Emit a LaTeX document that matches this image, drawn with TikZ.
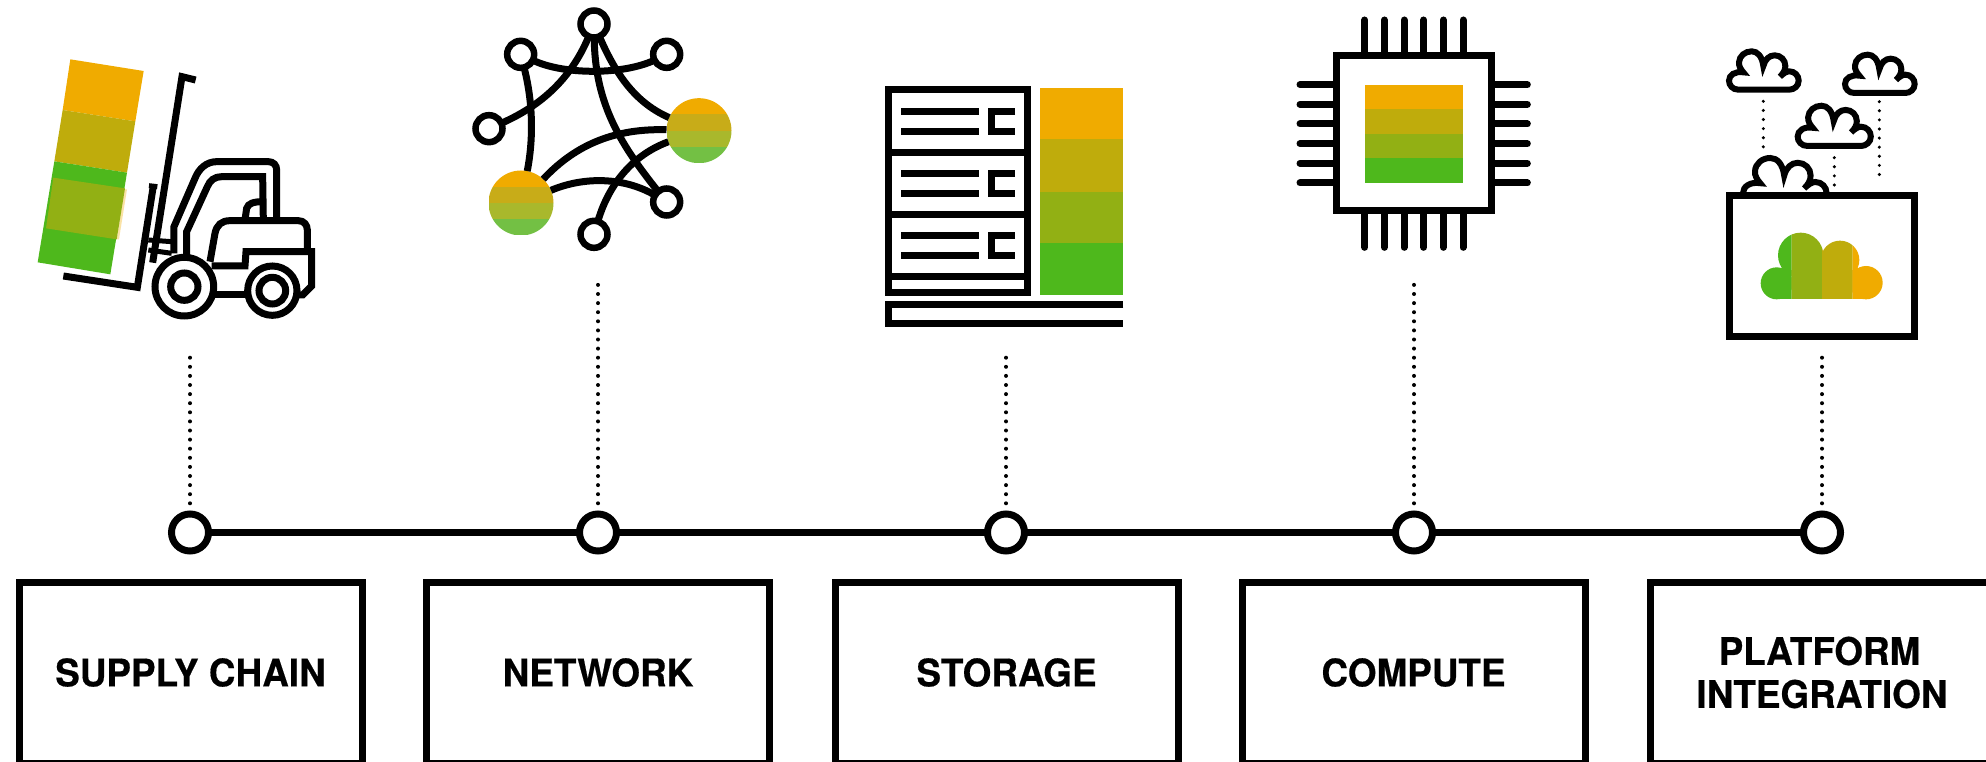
\documentclass[tikz,border=0pt]{standalone}
\usepackage{fontspec}
\newfontfamily\labfont[FakeStretch=0.97,BoldFeatures={FakeBold=0.5}]{TeX Gyre Heros}
\definecolor{cA}{HTML}{F0AB00}
\definecolor{cB}{HTML}{BFAC0C}
\definecolor{cC}{HTML}{92B014}
\definecolor{cD}{HTML}{4EB81C}
\definecolor{lA}{HTML}{F0AB00}
\definecolor{lB}{HTML}{C8AC18}
\definecolor{lC}{HTML}{A9B82C}
\definecolor{lD}{HTML}{73C044}
\tikzset{
  tick/.style={circle,draw=black,fill=white,line width=7pt,minimum size=37pt,inner sep=0pt,outer sep=0pt},
  labelbox/.style={rectangle,draw=black,line width=7pt,minimum width=343pt,minimum height=181pt,inner sep=0pt,align=center,
    font=\labfont\bfseries\fontsize{38}{43}\selectfont},
  spine/.style={line width=7pt,black},
  dots/.style={line width=4pt,line cap=round,dash pattern=on 0pt off 9.1pt,shorten >=7pt},
  ico/.style={line width=7pt,black},
  icor/.style={ico,line cap=round},
  ring/.style={circle,draw=black,fill=white,line width=6.5pt,minimum size=27pt,inner sep=0pt,outer sep=0pt},
  ball/.style={circle,minimum size=65pt,inner sep=0pt,outer sep=0pt,path picture={
    \fill[lA] (path picture bounding box.north west) rectangle ([yshift=-16.25pt]path picture bounding box.north east);
    \fill[lB] ([yshift=-16.25pt]path picture bounding box.north west) rectangle ([yshift=-32.5pt]path picture bounding box.north east);
    \fill[lC] ([yshift=-32.5pt]path picture bounding box.north west) rectangle ([yshift=-48.75pt]path picture bounding box.north east);
    \fill[lD] ([yshift=-48.75pt]path picture bounding box.north west) rectangle (path picture bounding box.south east);}},
}
\newcommand{\cloudshape}{(115,179) .. controls (98,179) and (87,166) .. (87,152)
  .. controls (87,135) and (105,123) .. (130,127)
  .. controls (122,118) and (116,108) .. (117,97)
  .. controls (118,78) and (135,64) .. (155,64)
  .. controls (172,64) and (186,78) .. (190,108)
  .. controls (195,88) and (208,76) .. (224,76)
  .. controls (242,76) and (256,90) .. (256,108)
  .. controls (256,120) and (250,130) .. (240,140)
  .. controls (250,130) and (260,124) .. (268,124)
  .. controls (284,124) and (296,137) .. (296,152)
  .. controls (296,168) and (282,179) .. (268,179) -- cycle}
\newcommand{\cloudfill}[1]{%
  \fill[#1] (230,760) circle (48) (302,676) circle (68) (420,690) circle (58) (498,758) circle (50);
  \fill[#1] (230,720) rectangle (498,808);
  \fill[#1] (300,690) rectangle (430,808);}
\begin{document}
\begin{tikzpicture}[x=1pt,y=-1pt]
\useasboundingbox (0,0) rectangle (1986,762);
\clip (0,0) rectangle (1986,762);
% timeline
\node[tick] (t1) at (190,532.5) {};
\node[tick] (t2) at (598,532.5) {};
\node[tick] (t3) at (1006,532.5) {};
\node[tick] (t4) at (1414,532.5) {};
\node[tick] (t5) at (1822,532.5) {};
\draw[spine] (t1) -- (t2);
\draw[spine] (t2) -- (t3);
\draw[spine] (t3) -- (t4);
\draw[spine] (t4) -- (t5);
\coordinate (c1) at (190,357.7);
\coordinate (c2) at (598,284.9);
\coordinate (c3) at (1006,357.7);
\coordinate (c4) at (1414,284.9);
\coordinate (c5) at (1822,357.7);
\draw[dots] (c1) -- (t1);
\draw[dots] (c2) -- (t2);
\draw[dots] (c3) -- (t3);
\draw[dots] (c4) -- (t4);
\draw[dots] (c5) -- (t5);
% boxes
\node[labelbox] (b1) at (190.5,672.5) {SUPPLY CHAIN};
\node[labelbox] (b2) at (598,672.5) {NETWORK};
\node[labelbox] (b3) at (1006.5,672.5) {STORAGE};
\node[labelbox] (b4) at (1413.5,672.5) {COMPUTE};
\node[labelbox] (b5) at (1822,672.5) {PLATFORM\hspace*{5pt}\\INTEGRATION};
% forklift
\begin{scope}[shift={(0,30)},scale=1/3]
\fill[cA] (211,88) -- (431,123) -- (406,274) -- (188,240) -- cycle;
\fill[cB] (188,240) -- (406,274) -- (381,428) -- (163,394) -- cycle;
\fill[cD] (163,394) -- (381,428) -- (331,733) -- (113,697) -- cycle;
\fill[cA!35!white] (373,478) -- (381,478) -- (357,628) -- (350,628) -- cycle;
\fill[cC] (160,443) -- (375,475) -- (350,628) -- (138,595) -- cycle;
\draw[ico] (587,150) -- (546,140) -- (458,698);
\draw[ico] (190,738) -- (412,772) -- (460,468);
\draw[ico,line width=5pt] (447,467) -- (472,470);
\draw[ico,line width=5pt] (445,630) -- (515,635) (445,660) -- (515,670);
\draw[ico] (522,670) -- (522,590) -- (585,445) .. controls (597,415) and (620,395) .. (650,395) -- (805,395) .. controls (820,395) and (830,405) .. (830,420) -- (830,572);
\draw[ico] (560,675) -- (560,605) -- (622,470) .. controls (630,450) and (645,440) .. (665,440) -- (788,440) -- (790,572);
\draw[ico] (735,570) -- (740,535) .. controls (745,520) and (760,515) .. (790,515);
\draw[ico] (630,695) -- (645,610) .. controls (650,585) and (665,572) .. (690,572) -- (895,572) .. controls (912,572) and (922,585) .. (922,600) -- (922,665);
\draw[ico] (635,708) -- (735,708) -- (738,665) -- (935,665) -- (935,768) -- (908,795) -- (890,795);
\draw[ico] (640,793) -- (745,793);
\draw[ico,fill=white] (553,770) circle (88);
\draw[ico,fill=white] (553,770) circle (41);
\draw[ico,fill=white] (817,782) circle (74);
\draw[ico,fill=white] (817,782) circle (40);
\end{scope}
% network
\begin{scope}[shift={(450,0)},scale=1/3]
\node[ring] (n1) at (432,72) {};
\node[ring] (n2) at (212,163) {};
\node[ring] (n3) at (650,163) {};
\node[ring] (n4) at (117,386) {};
\node[ring] (n5) at (650,606) {};
\node[ring] (n6) at (432,703) {};
\node[ball] (n7) at (747,392) {};
\node[ball] (n8) at (213,609) {};
\draw[ico] (n2) .. controls (340,225) and (520,225) .. (n3);
\draw[ico] (n4) .. controls (290,310) and (370,220) .. (n1);
\draw[ico] (n2) .. controls (250,310) and (250,420) .. (n8);
\draw[ico] (n1) .. controls (435,300) and (500,420) .. (n5);
\draw[ico] (n1) .. controls (500,230) and (560,310) .. (n7);
\draw[ico] (n8) .. controls (380,430) and (500,385) .. (n7);
\draw[ico] (n8) .. controls (400,530) and (520,530) .. (n5);
\draw[ico] (n6) .. controls (480,540) and (560,460) .. (n7);
\end{scope}
% storage
\begin{scope}[shift={(870,70)},scale=1/3]
\fill[cA] (510,54) rectangle (760,208);
\fill[cB] (510,208) rectangle (760,365);
\fill[cC] (510,365) rectangle (760,518);
\fill[cD] (510,518) rectangle (760,676);
\draw[ico] (56,60) rectangle (472,667);
\draw[ico] (56,248) -- (472,248) (56,434) -- (472,434) (56,620) -- (472,620);
\foreach \d in {0,186,372} {
  \draw[ico] (93,124+\d) -- (328,124+\d) (93,186+\d) -- (328,186+\d);
  \draw[ico] (435,124+\d) -- (363,124+\d) -- (363,186+\d) -- (435,186+\d);
}
\draw[ico] (760,705) -- (56,705) -- (56,760) -- (760,760);
\end{scope}
% chip
\begin{scope}[shift={(1280,0)},scale=1/3]
\fill[cA] (254,254) rectangle (549,327);
\fill[cB] (254,327) rectangle (549,401);
\fill[cC] (254,401) rectangle (549,474);
\fill[cD] (254,474) rectangle (549,549);
\foreach \p in {254,313,372,431,490,549} {
  \draw[icor] (\p,60) -- (\p,160) (\p,640) -- (\p,742);
  \draw[icor] (60,\p) -- (160,\p) (640,\p) -- (742,\p);
}
\draw[ico] (168,168) rectangle (633,633);
\end{scope}
% platform
\begin{scope}[shift={(1700,30)},scale=1/3]
\draw[ico,line width=6pt] \cloudshape;
\begin{scope}[shift={(348,10)}]
\draw[ico,line width=6pt] \cloudshape;
\end{scope}
\begin{scope}[shift={(201.6,160)},scale=1.05]
\draw[ico,line width=6pt] \cloudshape;
\end{scope}
\begin{scope}[shift={(24.6,307.2)},scale=1.2]
\draw[ico,line width=6pt] \cloudshape;
\end{scope}
\draw[dots,line width=3.4pt,shorten >=0pt] (190,214) -- (190,356);
\draw[dots,line width=3.4pt,shorten >=0pt] (403,383) -- (403,470);
\draw[dots,line width=3.4pt,shorten >=0pt] (538,215) -- (538,438);
\draw[ico,fill=white] (87,498) rectangle (643,921);
\begin{scope}\clip (170,600) rectangle (275,820); \cloudfill{cD} \end{scope}
\begin{scope}\clip (275,600) rectangle (366,820); \cloudfill{cC} \end{scope}
\begin{scope}\clip (366,600) rectangle (458,820); \cloudfill{cB} \end{scope}
\begin{scope}\clip (458,600) rectangle (560,820); \cloudfill{cA} \end{scope}
\end{scope}
\end{tikzpicture}
\end{document}
